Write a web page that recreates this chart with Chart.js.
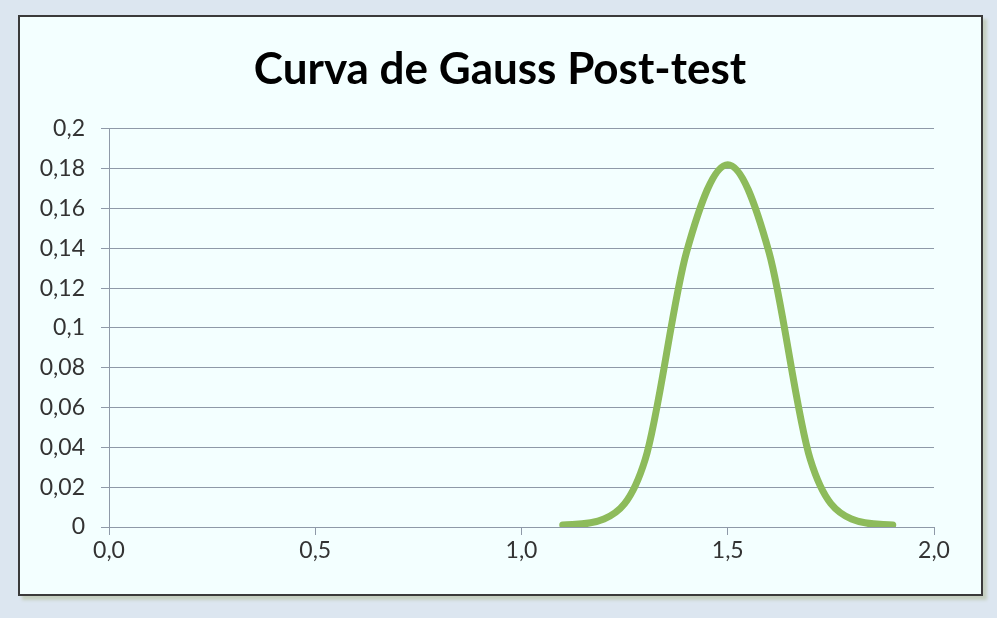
<!DOCTYPE html>
<html>
<head>
<meta charset="utf-8">
<script src="https://cdn.jsdelivr.net/npm/chart.js@4/dist/chart.umd.min.js"></script>
<style>
  html, body { margin: 0; padding: 0; }
  body { width: 997px; height: 618px; background: #DCE6F0; position: relative; overflow: hidden; }
  #frame {
    position: absolute; left: 18px; top: 15px; width: 961px; height: 577px;
    background: #F3FFFF; border: 2px solid #3A3A3A;
    box-shadow: 4px 4px 3px #C5CFC0;
  }
  #wrap { position: absolute; left: 0; top: 0; width: 997px; height: 618px; }
</style>
</head>
<body>
<div id="frame"></div>
<div id="wrap"><canvas id="myChart" width="997" height="618"></canvas></div>
<script>
// ---------------------------------------------------------------- data
var xValues = [1.1, 1.2, 1.3, 1.4, 1.5, 1.6, 1.7, 1.8, 1.9];
var yValues = [0.001, 0.004, 0.034, 0.138, 0.182, 0.138, 0.034, 0.004, 0.001];
var xTickValues = [0, 0.5, 1, 1.5, 2];
var yTickValues = [0, 0.02, 0.04, 0.06, 0.08, 0.1, 0.12, 0.14, 0.16, 0.18, 0.2];
var titleText = 'Curva de Gauss Post-test';

var points = [];
for (var i = 0; i < xValues.length; i++) {
    points.push({ x: xValues[i], y: yValues[i] });
}

// comma as decimal sign, like the original
function fmtX(v) { return v.toFixed(1).replace('.', ','); }
function fmtY(v) { return String(parseFloat(v.toFixed(2))).replace('.', ','); }

var gridColor = '#8E99A8';
var tickFont = { family: 'Lato, "Open Sans", sans-serif', size: 23 };

// centre the title on the frame instead of the padded area
const titleShift = {
    id: 'titleShift',
    afterLayout: function (chart) {
        if (chart.titleBlock) {
            chart.titleBlock.left = 66;
            chart.titleBlock.width = chart.titleBlock.right - 66;
        }
    }
};

const ctx = document.getElementById('myChart').getContext('2d');
const myChart = new Chart(ctx, {
    type: 'line',
    data: {
        datasets: [{
            label: 'Post-test',
            data: points,
            borderColor: '#8DBB5B',
            borderWidth: 7,
            borderCapStyle: 'round',
            cubicInterpolationMode: 'monotone',
            pointRadius: 0,
            fill: false
        }]
    },
    plugins: [titleShift],
    options: {
        responsive: false,
        animation: false,
        layout: { padding: { left: 20, right: 63, top: 17, bottom: 50 } },
        plugins: {
            legend: { display: false },
            tooltip: { enabled: false },
            title: {
                display: true,
                text: titleText,
                color: '#000000',
                font: { family: 'Lato, "Open Sans", sans-serif', size: 44, weight: 'bold' },
                padding: { top: 26, bottom: 33 }
            }
        },
        scales: {
            x: {
                type: 'linear',
                min: 0,
                max: 2,
                afterBuildTicks: function (scale) {
                    scale.ticks = xTickValues.map(function (v) { return { value: v }; });
                },
                afterFit: function (scale) { scale.height = 41; },
                grid: { drawOnChartArea: false, drawTicks: true, tickLength: 8, color: gridColor },
                border: { color: gridColor, width: 1 },
                ticks: { color: '#333333', font: tickFont, padding: 2, maxRotation: 0,
                    callback: function (v) { return fmtX(v); } }
            },
            y: {
                min: 0,
                max: 0.2,
                afterBuildTicks: function (scale) {
                    scale.ticks = yTickValues.map(function (v) { return { value: v }; });
                },
                afterFit: function (scale) { scale.width = 89; },
                grid: { drawOnChartArea: true, drawTicks: true, tickLength: 8, color: gridColor },
                border: { color: gridColor, width: 1 },
                ticks: { color: '#333333', font: tickFont, padding: 16,
                    callback: function (v) { return fmtY(v); } }
            }
        }
    }
});
</script>
</body>
</html>
